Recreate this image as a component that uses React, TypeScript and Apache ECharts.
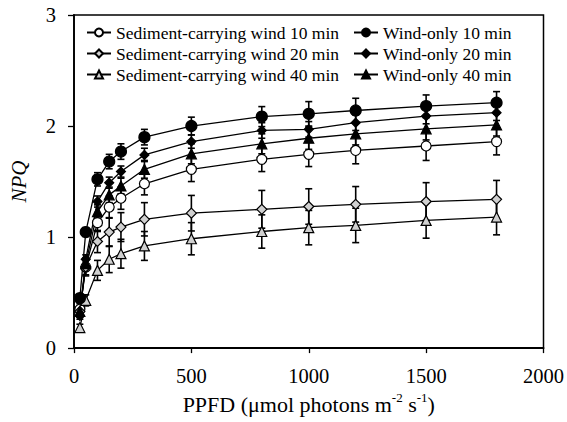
import React, { useEffect, useRef } from "react";
import * as echarts from "echarts";

const xValues = [25, 50, 100, 150, 200, 300, 500, 800, 1000, 1200, 1500, 1800];

const sed10 = [0.35, 0.73, 1.13, 1.27, 1.35, 1.48, 1.61, 1.7, 1.745, 1.78, 1.82, 1.86];
const sed20 = [0.33, 0.73, 0.96, 1.045, 1.09, 1.16, 1.215, 1.25, 1.275, 1.295, 1.32, 1.34];
const sed40 = [0.185, 0.43, 0.7, 0.8, 0.85, 0.92, 0.985, 1.05, 1.085, 1.105, 1.15, 1.18];
const wo10 = [0.45, 1.045, 1.52, 1.68, 1.77, 1.9, 2.0, 2.085, 2.11, 2.14, 2.18, 2.21];
const wo20 = [0.29, 0.8, 1.32, 1.49, 1.59, 1.74, 1.86, 1.96, 1.97, 2.03, 2.09, 2.12];
const wo40 = [0.33, 0.76, 1.23, 1.38, 1.46, 1.61, 1.75, 1.84, 1.89, 1.93, 1.975, 2.01];

const sed10Err = [0.05, 0.07, 0.08, 0.1, 0.1, 0.1, 0.11, 0.11, 0.11, 0.12, 0.13, 0.12];
const sed20Err = [0.05, 0.08, 0.1, 0.13, 0.13, 0.15, 0.16, 0.17, 0.16, 0.16, 0.17, 0.17];
const sed40Err = [0.03, 0.05, 0.09, 0.12, 0.13, 0.13, 0.145, 0.15, 0.155, 0.155, 0.16, 0.16];
const wo10Err = [0.03, 0.04, 0.06, 0.065, 0.07, 0.07, 0.08, 0.09, 0.11, 0.11, 0.1, 0.1];
const wo20Err = [0.03, 0.04, 0.05, 0.05, 0.05, 0.06, 0.06, 0.07, 0.07, 0.07, 0.07, 0.07];
const wo40Err = [0.04, 0.05, 0.06, 0.07, 0.07, 0.08, 0.09, 0.09, 0.1, 0.1, 0.1, 0.1];

const names = [
  "Sediment-carrying wind 10 min",
  "Sediment-carrying wind 20 min",
  "Sediment-carrying wind 40 min",
  "Wind-only 10 min",
  "Wind-only 20 min",
  "Wind-only 40 min",
];

const FONT = "'Liberation Serif', 'Times New Roman', serif";
const GREY = "#d0d0d0";

export default function App() {
  const ref = useRef<HTMLDivElement>(null);
  useEffect(() => {
    if (!ref.current) return;
    const chart = echarts.init(ref.current, undefined, { renderer: "svg" });

    const specs = [
      { name: names[0], vals: sed10, err: sed10Err, symbol: "circle", size: 10, fill: "#fff" },
      { name: names[1], vals: sed20, err: sed20Err, symbol: "diamond", size: 10, fill: GREY },
      { name: names[2], vals: sed40, err: sed40Err, symbol: "triangle", size: 10, fill: GREY },
      { name: names[3], vals: wo10, err: wo10Err, symbol: "circle", size: 11, fill: "#000" },
      { name: names[4], vals: wo20, err: wo20Err, symbol: "diamond", size: 9, fill: "#000" },
      { name: names[5], vals: wo40, err: wo40Err, symbol: "triangle", size: 10, fill: "#000" },
    ];

    const series: any[] = [];
    specs.forEach((s) => {
      series.push({
        type: "custom",
        name: s.name + " err",
        z: 1,
        silent: true,
        data: xValues.map((x, i) => [x, s.vals[i] - s.err[i], s.vals[i] + s.err[i]]),
        encode: { x: 0, y: [1, 2] },
        renderItem: (params: any, api: any) => {
          const x = api.value(0);
          const lo = api.coord([x, api.value(1)]);
          const hi = api.coord([x, api.value(2)]);
          const w = 3.5;
          const st = { stroke: "#000", lineWidth: 1.6 };
          return {
            type: "group",
            children: [
              { type: "line", shape: { x1: lo[0], y1: lo[1], x2: hi[0], y2: hi[1] }, style: st },
              { type: "line", shape: { x1: lo[0] - w, y1: lo[1], x2: lo[0] + w, y2: lo[1] }, style: st },
              { type: "line", shape: { x1: hi[0] - w, y1: hi[1], x2: hi[0] + w, y2: hi[1] }, style: st },
            ],
          };
        },
      });
    });
    specs.forEach((s) => {
      series.push({
        type: "line",
        name: s.name,
        z: 3,
        data: xValues.map((x, i) => [x, s.vals[i]]),
        symbol: s.symbol,
        symbolSize: s.size,
        showAllSymbol: true,
        lineStyle: { color: "#000", width: 1.3 },
        itemStyle: { color: s.fill, borderColor: "#000", borderWidth: 1.2 },
      });
    });

    const legendCommon = {
      orient: "vertical",
      top: 23.5,
      padding: 0,
      itemWidth: 24,
      itemHeight: 10,
      itemGap: 3,
      textStyle: { fontFamily: FONT, fontSize: 17.5, color: "#000" },
      selectedMode: false,
    };

    chart.setOption({
      animation: false,
      backgroundColor: "#fff",
      textStyle: { fontFamily: FONT },
      grid: {
        left: 71,
        right: 21,
        top: 15,
        bottom: 68,
        show: true,
        borderColor: "#000",
        borderWidth: 1.5,
      },
      legend: [
        { ...legendCommon, left: 86, data: names.slice(0, 3) },
        { ...legendCommon, left: 353, data: names.slice(3, 6) },
      ],
      xAxis: {
        type: "value",
        min: 0,
        max: 2000,
        interval: 500,
        name: "PPFD (μmol photons m{sup|-2} s{sup|-1})",
        nameLocation: "middle",
        nameGap: 40,
        nameTextStyle: {
          fontFamily: FONT,
          fontSize: 22,
          color: "#000",
          lineHeight: 26,
          rich: {
            sup: { fontFamily: FONT, fontSize: 13, lineHeight: 13, verticalAlign: "top", color: "#000" },
          },
        },
        axisLine: { show: true, lineStyle: { color: "#000", width: 1.8 } },
        axisTick: { show: true, inside: false, length: 5, lineStyle: { color: "#000", width: 1.3 } },
        axisLabel: {
          fontFamily: FONT,
          fontSize: 20.5,
          color: "#000",
          margin: 17,
          formatter: (v: number) => String(v),
        },
        splitLine: { show: false },
      },
      yAxis: {
        type: "value",
        min: 0,
        max: 3,
        interval: 1,
        name: "NPQ",
        nameLocation: "middle",
        nameGap: 45,
        nameTextStyle: { fontFamily: FONT, fontSize: 21, fontStyle: "italic", color: "#000" },
        axisLine: { show: true, lineStyle: { color: "#000", width: 1.8 } },
        axisTick: { show: true, inside: false, length: 6, lineStyle: { color: "#000", width: 1.3 } },
        axisLabel: { fontFamily: FONT, fontSize: 20.5, color: "#000", margin: 18 },
        splitLine: { show: false },
      },
      series,
    });
    return () => chart.dispose();
  }, []);
  return (
    <div
      ref={ref}
      style={{ position: "fixed", left: 0, top: 0, width: 567, height: 422, background: "#fff" }}
    />
  );
}
